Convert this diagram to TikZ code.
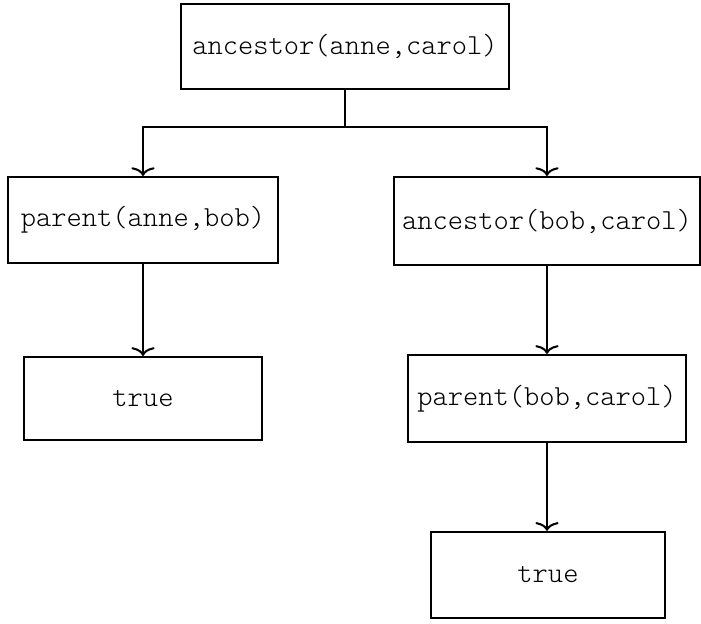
\documentclass[tikz,border=0pt]{standalone}
\usetikzlibrary{arrows.meta}
\begin{document}
\begin{tikzpicture}[x=0.3442pt,y=-0.3442pt,
  goal/.style={draw, line width=0.7pt, inner sep=0pt, font=\ttfamily\fontseries{l}\selectfont},
  link/.style={line width=0.7pt, -{To[length=3pt,width=8pt]}}]
\useasboundingbox (0,0) rectangle (701,624);
\node[goal, minimum width=112.9pt, minimum height=29.3pt] (top) at (345,46.5) {ancestor(anne,carol)};
\node[goal, minimum width=93pt, minimum height=29.6pt] (pa) at (143,220) {parent(anne,bob)};
\node[goal, minimum width=105pt, minimum height=30.3pt] (ab) at (547,221) {ancestor(bob,carol)};
\node[goal, minimum width=82pt, minimum height=28.6pt] (t1) at (143,398.5) {true};
\node[goal, minimum width=95.4pt, minimum height=30pt] (pb) at (547,398.5) {parent(bob,carol)};
\node[goal, minimum width=80.3pt, minimum height=29.7pt] (t2) at (548,575) {true};
\coordinate (split) at (345,127);
\draw[line width=0.7pt] (top.south) -- (split);
\draw[link] (split) -| (pa.north);
\draw[link] (split) -| (ab.north);
\draw[link] (pa.south) -- (pa.south |- t1.north);
\draw[link] (ab.south) -- (ab.south |- pb.north);
\draw[link] (pb.south) -- (pb.south |- t2.north);
\end{tikzpicture}
\end{document}
